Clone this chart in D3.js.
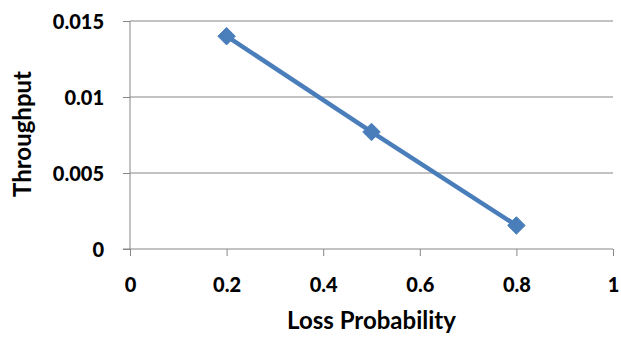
<!DOCTYPE html>
<html>
<head>
<meta charset="utf-8">
<script src="https://cdn.jsdelivr.net/npm/d3@7"></script>
<style>
body { margin:0; background:#fff; }
text { font-family: Lato, "Open Sans", sans-serif; font-weight: bold; fill:#000; }
</style>
</head>
<body>
<svg id="chart" width="621" height="342"></svg>
<script>
var lossProb = [0.2, 0.5, 0.8];
var throughput = [0.014, 0.0077, 0.00155];
var xTicks = [0, 0.2, 0.4, 0.6, 0.8, 1];
var yTicks = [0, 0.005, 0.01, 0.015];
var yTickLabels = ["0", "0.005", "0.01", "0.015"];

var margin = {top:21, left:130, right:8, bottom:93};
var width = 621, height = 342;

var svg = d3.select("#chart");

var x = d3.scaleLinear().domain([0, 1]).range([margin.left, width - margin.right]);
var y = d3.scaleLinear().domain([0, 0.015]).range([height - margin.bottom, margin.top]);

// gridlines
svg.append("g").selectAll("line").data(yTicks.slice(1)).enter().append("line")
  .attr("x1", x(0)).attr("x2", x(1))
  .attr("y1", function(d){ return y(d); }).attr("y2", function(d){ return y(d); })
  .style("stroke", "#868686").style("stroke-width", 1);

// y axis
var yAxis = d3.axisLeft(y).tickValues(yTicks).tickSize(7)
  .tickFormat(function(d, i){ return yTickLabels[i]; });
var gy = svg.append("g").attr("transform", "translate(" + x(0) + ",0)").call(yAxis);
gy.select(".domain").remove();
gy.append("line").attr("x1", 0).attr("x2", 0).attr("y1", y(0.015)).attr("y2", y(0))
  .style("stroke", "#868686");
gy.selectAll(".tick line").style("stroke", "#868686");
gy.selectAll(".tick text").attr("x", -26).attr("dy", "0.36em")
  .style("font-size", "20px").style("font-family", "Lato, sans-serif").style("font-weight", 900);

// x axis
var xAxis = d3.axisBottom(x).tickValues(xTicks).tickSize(7).tickFormat(d3.format("~g"));
var gx = svg.append("g").attr("transform", "translate(0," + y(0) + ")").call(xAxis);
gx.select(".domain").remove();
gx.append("line").attr("x1", x(0) - 7).attr("x2", x(1)).attr("y1", 0).attr("y2", 0)
  .style("stroke", "#868686");
gx.selectAll(".tick line").style("stroke", "#868686");
gx.selectAll(".tick text").attr("y", 43).attr("dy", 0)
  .style("font-size", "20px").style("font-family", "Lato, sans-serif").style("font-weight", 900);

// axis titles
svg.append("text").attr("x", (x(0) + x(1)) / 2).attr("y", 329)
  .attr("text-anchor", "middle").style("font-size", "24px").text("Loss Probability");
svg.append("text").attr("transform", "translate(31," + 134 + ") rotate(-90)")
  .attr("text-anchor", "middle").style("font-size", "24px").text("Throughput");

// series
var pts = lossProb.map(function(d, i){ return [d, throughput[i]]; });
var line = d3.line().x(function(d){ return x(d[0]); }).y(function(d){ return y(d[1]); });
svg.append("path").datum(pts).attr("d", line)
  .style("fill", "none").style("stroke", "#4a7ebb").style("stroke-width", 4.5);

svg.append("g").selectAll("path").data(pts).enter().append("path")
  .attr("d", d3.symbol().type(d3.symbolDiamond2).size(195))
  .attr("transform", function(d){ return "translate(" + x(d[0]) + "," + y(d[1]) + ")"; })
  .style("fill", "#4a7ebb").style("stroke", "#4a7ebb");
</script>
</body>
</html>
